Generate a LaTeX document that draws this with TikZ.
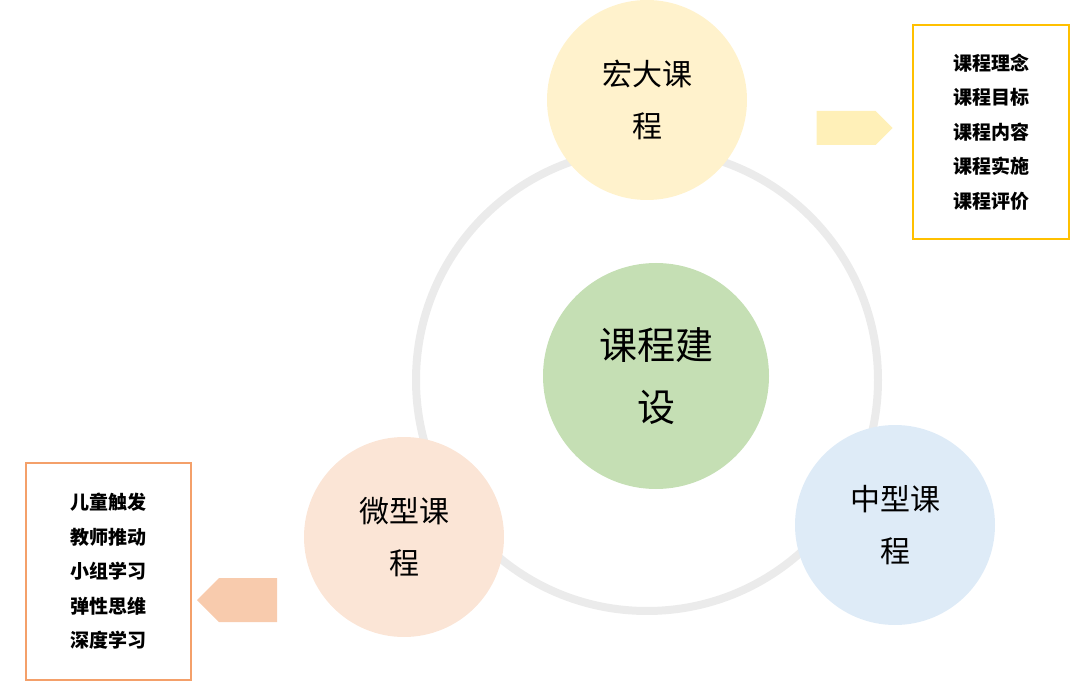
\documentclass[tikz,border=0pt]{standalone}
\usepackage{fontspec}
\newfontfamily\cjk{Noto Sans CJK SC}
\usetikzlibrary{shapes.arrows}
\definecolor{ringgray}{HTML}{EBEBEB}
\definecolor{cgreen}{HTML}{C5DFB4}
\definecolor{cyellow}{HTML}{FFF2CC}
\definecolor{cblue}{HTML}{DEEBF7}
\definecolor{corange}{HTML}{FBE5D6}
\definecolor{ayellow}{HTML}{FFF0B8}
\definecolor{aorange}{HTML}{F8CBAD}
\definecolor{byellow}{HTML}{FFC000}
\definecolor{borange}{HTML}{F4A06A}
\tikzset{
 x=1pt,y=-1pt,
 bubble/.style={circle,inner sep=0pt,minimum size=200pt,font=\cjk\fontsize{30}{52}\selectfont,align=center,text=black},
 listbox/.style={draw,line width=1.5pt,align=center,font=\cjk\bfseries\fontsize{19}{34.5}\selectfont,inner sep=0pt},
 blockarrow/.style={single arrow,inner sep=0pt,minimum height=78pt,minimum width=40pt,single arrow head extend=0pt,single arrow head indent=0pt}
}
\begin{document}
\begin{tikzpicture}
\useasboundingbox (0,0) rectangle (1080,687);
\draw[ringgray,line width=8pt] (647,380) circle (231);
\node[bubble,fill=cgreen,minimum size=226pt,font=\cjk\fontsize{38}{62}\selectfont] (center) at (656,376) {课程建\\设};
\node[bubble,fill=cyellow] (macro) at (647,100) {宏大课\\程};
\node[bubble,fill=cblue] (mid) at (895,525) {中型课\\程};
\node[bubble,fill=corange] (micro) at (404,537) {微型课\\程};
\node[listbox,draw=byellow,minimum width=156pt,minimum height=214pt] (rbox) at (991,132) {课程理念\\课程目标\\课程内容\\课程实施\\课程评价};
\node[listbox,draw=borange,minimum width=165pt,minimum height=217pt] (lbox) at (108.5,571.5) {儿童触发\\教师推动\\小组学习\\弹性思维\\深度学习};
\node[blockarrow,fill=ayellow,minimum height=76pt,minimum width=34pt] (ra) at (846,128) {};
\node[blockarrow,fill=aorange,shape border rotate=180,minimum height=80pt,minimum width=44pt] (la) at (248,600) {};
\end{tikzpicture}
\end{document}
